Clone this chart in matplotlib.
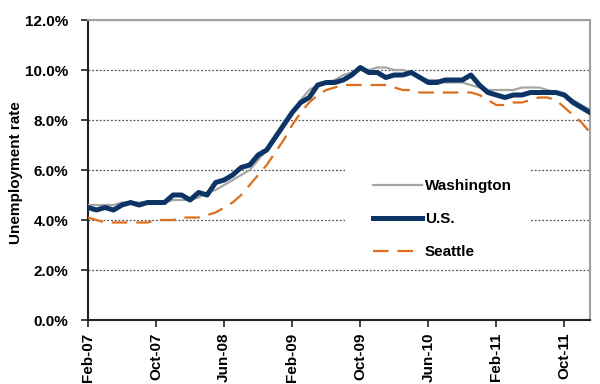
import numpy as np
import matplotlib.pyplot as plt
from matplotlib.ticker import FuncFormatter
from matplotlib.patches import Rectangle

plt.rcParams['font.family'] = ['Liberation Sans', 'DejaVu Sans']

# monthly unemployment rate, Feb-07 .. Jan-12
washington = [4.6, 4.6, 4.6, 4.6, 4.7, 4.7, 4.7, 4.7, 4.7, 4.7, 4.8, 4.8,
              4.8, 4.9, 5.1, 5.2, 5.4, 5.6, 5.8, 6.0, 6.4, 6.8, 7.3, 7.8,
              8.3, 8.8, 9.2, 9.4, 9.5, 9.6, 9.8, 9.9, 10.0, 10.0, 10.1, 10.1,
              10.0, 10.0, 9.9, 9.7, 9.6, 9.6, 9.5, 9.5, 9.5, 9.4, 9.3, 9.2,
              9.2, 9.2, 9.2, 9.3, 9.3, 9.3, 9.2, 9.1, 9.0, 8.8, 8.6, 8.4]
us = [4.5, 4.4, 4.5, 4.4, 4.6, 4.7, 4.6, 4.7, 4.7, 4.7, 5.0, 5.0,
      4.8, 5.1, 5.0, 5.5, 5.6, 5.8, 6.1, 6.2, 6.6, 6.8, 7.3, 7.8,
      8.3, 8.7, 8.9, 9.4, 9.5, 9.5, 9.6, 9.8, 10.1, 9.9, 9.9, 9.7,
      9.8, 9.8, 9.9, 9.7, 9.5, 9.5, 9.6, 9.6, 9.6, 9.8, 9.4, 9.1,
      9.0, 8.9, 9.0, 9.0, 9.1, 9.1, 9.1, 9.1, 9.0, 8.7, 8.5, 8.3]
seattle = [4.1, 4.0, 3.9, 3.9, 3.9, 3.9, 3.9, 3.9, 4.0, 4.0, 4.0, 4.1,
           4.1, 4.1, 4.2, 4.3, 4.5, 4.7, 5.0, 5.4, 5.8, 6.2, 6.7, 7.2,
           7.8, 8.3, 8.7, 9.0, 9.2, 9.3, 9.4, 9.4, 9.4, 9.4, 9.4, 9.4,
           9.3, 9.2, 9.2, 9.1, 9.1, 9.1, 9.1, 9.1, 9.1, 9.1, 9.0, 8.8,
           8.6, 8.6, 8.7, 8.7, 8.8, 8.9, 8.9, 8.8, 8.5, 8.2, 7.9, 7.5]
tick_labels = ['Feb-07', 'Oct-07', 'Jun-08', 'Feb-09', 'Oct-09', 'Jun-10', 'Feb-11', 'Oct-11']

months = np.arange(len(us))
fs = 11

fig = plt.figure(figsize=(6, 3.84), dpi=100)
ax = fig.add_axes([88/600, 64/384, 502/600, 300/384])

ax.plot(months, washington, color='#a6a6a6', lw=1.6, label='Washington', zorder=3)
ax.plot(months, us, color='#0c3566', lw=3.6, label='U.S.', zorder=4)
ax.plot(months, seattle, color='#dd6f1c', lw=1.6, dashes=(7, 4), label='Seattle', zorder=5)

ax.set_xlim(0, len(us) - 1)
ax.set_ylim(0, 12)
ax.set_yticks(np.arange(0, 12.1, 2))
ax.yaxis.set_major_formatter(FuncFormatter(lambda v, p: '%.1f%%' % v))
ax.set_xticks(months[::8])
ax.set_xticklabels(tick_labels, rotation=90, fontsize=fs, fontweight='bold')
for t in ax.get_yticklabels():
    t.set_fontsize(fs)
    t.set_fontweight('bold')

ax.grid(axis='y', linestyle=(0, (1.5, 1.5)), color='#555555', lw=0.9, zorder=1)
ax.tick_params(axis='both', direction='out', length=5, width=1.2, color='#222222')
ax.tick_params(axis='y', pad=9)
ax.tick_params(axis='x', pad=4)

for s in ['top', 'right']:
    ax.spines[s].set_color('#a0a0a0')
    ax.spines[s].set_linewidth(1.5)
for s in ['left', 'bottom']:
    ax.spines[s].set_color('#222222')
    ax.spines[s].set_linewidth(1.5)

ax.set_ylabel('Unemployment rate', fontsize=fs, fontweight='bold')
ax.yaxis.set_label_coords(-0.13, 0.49)

# white block behind the legend, hides the grid there
ax.add_patch(Rectangle((0.512, 0.19), 0.37, 0.33, transform=ax.transAxes,
                       facecolor='white', edgecolor='none', zorder=2))
leg = ax.legend(loc='upper left', bbox_to_anchor=(0.568, 0.47), frameon=False,
                prop={'weight': 'bold', 'size': fs}, handlelength=3.2, handletextpad=0.2,
                labelspacing=1.25, borderpad=0, borderaxespad=0)
leg.set_zorder(10)

fig.savefig('out.png', dpi=100)
